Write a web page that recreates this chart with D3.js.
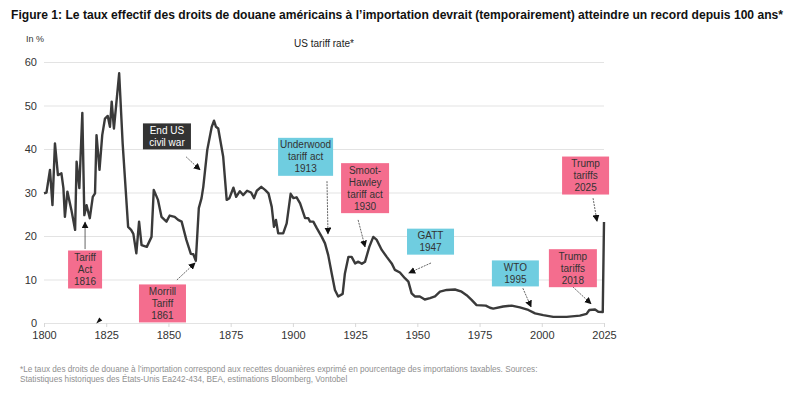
<!DOCTYPE html>
<html>
<head>
<meta charset="utf-8">
<script src="https://cdn.jsdelivr.net/npm/d3@7"></script>
<style>
  body { margin: 0; background: #fff; }
  svg { font-family: "Liberation Sans", Arial, sans-serif; }
</style>
</head>
<body>
<svg width="796" height="396"></svg>
<script>
// US effective tariff rate, %
const years = [1800, 1801, 1802.4, 1803.4, 1804.4, 1805.6, 1807, 1807.8, 1808.4, 1809.4,
  1811, 1812.5, 1813.1, 1814.2, 1815.4, 1816.2, 1817.1, 1818.4, 1819.6, 1820.5,
  1821.1, 1822.3, 1823.4, 1824.5, 1825.6, 1826.5, 1827.2, 1828.1, 1830.2, 1831.6,
  1833.8, 1835, 1835.9, 1837.1, 1838.2, 1839.2, 1841.3, 1843.2, 1844.1, 1845.8,
  1847.2, 1849.2, 1850.5, 1852.5, 1853.9, 1855.3, 1857.2, 1859, 1860, 1861,
  1862.2, 1863.3, 1864, 1865.6, 1867.4, 1868.3, 1869.1, 1870, 1872, 1873.4,
  1874.5, 1876.1, 1877.2, 1878.7, 1880, 1881.6, 1883.2, 1884.4, 1885.5, 1887.3,
  1888.8, 1890.2, 1891.5, 1892.4, 1893.2, 1894.1, 1896.1, 1897.5, 1899.1, 1900.2,
  1901.5, 1902.9, 1904.9, 1906.2, 1906.9, 1908.2, 1909.6, 1911.6, 1912.9, 1914.2,
  1915.6, 1916.9, 1918.2, 1920, 1920.9, 1922.3, 1923.6, 1925, 1926.3, 1927.7,
  1929, 1930.7, 1932.3, 1933.7, 1935.7, 1937.7, 1939.7, 1941, 1943, 1945,
  1946.4, 1947.7, 1949, 1951, 1953, 1955.1, 1957.1, 1959.1, 1961.8, 1965.1,
  1967.8, 1969.8, 1971.8, 1973.8, 1977.5, 1979.2, 1980.5, 1984.5, 1987.9, 1991.2,
  1994.6, 1997.3, 2000.6, 2004.6, 2010, 2015.3, 2018, 2019.1, 2021.4, 2022.7,
  2024.5, 2025];
const tariffRate = [29.8, 30, 35.2, 27.1, 41.3, 34, 34.4, 31, 24.4, 30.2,
  26, 21.4, 37.1, 31, 48.3, 24.8, 27.1, 24.1, 29, 29.8,
  43.2, 35.2, 43.2, 47, 47.6, 45.1, 50.9, 44.7, 57.4, 41.3,
  22.1, 21.4, 20.5, 16, 23.3, 17.9, 17.5, 19.8, 30.6, 28.3,
  24.4, 23.3, 24.7, 24.4, 23.7, 23.3, 19.1, 15.9, 15.8, 14.3,
  26.4, 28.7, 31.3, 39.8, 45.1, 46.5, 45.1, 44.7, 38.2, 28.3,
  28.7, 31.1, 29, 30.3, 29.4, 30.4, 30, 28.7, 30.4, 31.3,
  30.6, 29.8, 26.7, 22.1, 23.7, 20.6, 20.6, 22.9, 29.7, 28.7,
  28.9, 27.5, 24.1, 24.1, 23.3, 23.3, 21.8, 19.8, 18.3, 15.6,
  11.4, 7.6, 6.1, 6.7, 11.4, 15.2, 15.2, 13.7, 14.1, 13.6,
  14.1, 17.5, 19.8, 19.1, 16.8, 15.2, 13.7, 12.2, 11.6, 10.3,
  9.5, 6.8, 6.1, 6.1, 5.4, 5.7, 6.1, 7.2, 7.6, 7.7,
  7.2, 6.4, 5.3, 4.1, 4.0, 3.5, 3.3, 3.8, 4.0, 3.6,
  3.0, 2.2, 1.8, 1.4, 1.4, 1.7, 2.1, 3.0, 3.1, 2.6,
  2.5, 23.2];

const xTicks = [1800, 1825, 1850, 1875, 1900, 1925, 1950, 1975, 2000, 2025];
const yTicks = [0, 10, 20, 30, 40, 50, 60];

// annotation labels; box centre and arrow ends given in data units
const noteLabels = [
  ["End US", "civil war"],
  ["Tariff", "Act", "1816"],
  ["Morrill", "Tariff", "1861"],
  ["Underwood", "tariff act", "1913"],
  ["Smoot-", "Hawley", "tariff act", "1930"],
  ["GATT", "1947"],
  ["WTO", "1995"],
  ["Trump", "tariffs", "2018"],
  ["Trump", "tariffs", "2025"]
];
const noteKind = ["dark", "pink", "pink", "blue", "pink", "blue", "blue", "pink", "pink"];

// layout of the annotations (box centre, box width, arrow from -> to)
const noteLayout = [
  { cx: 1849.4, cy: 42.9, w: 48, ax: [1857.1, 38.2], bx: [1862.7, 35.2] },
  { cx: 1816.5, cy: 12.3, w: 34, ax: [1816.5, 17.0], bx: [1816.5, 23.2] },
  { cx: 1847.6, cy: 4.5, w: 47, ax: [1853.4, 9.9], bx: [1860.7, 13.8] },
  { cx: 1905.1, cy: 38.2, w: 55, ax: [1913.7, 32.6], bx: [1914.1, 20.5] },
  { cx: 1929.0, cy: 31.0, w: 48, ax: [1926.2, 23.7], bx: [1929.0, 17.5] },
  { cx: 1955.3, cy: 18.7, w: 47, ax: [1955.5, 13.8], bx: [1946.6, 11.5] },
  { cx: 1989.4, cy: 11.4, w: 47, ax: [1992.4, 8.0], bx: [1995.7, 3.7] },
  { cx: 2012.5, cy: 12.6, w: 48, ax: [2012.5, 8.3], bx: [2019.8, 4.4] },
  { cx: 2017.6, cy: 33.9, w: 47, ax: [2020.6, 28.7], bx: [2022.2, 23.4] }
];
const boxFill = { dark: "#333333", pink: "#f46d8e", blue: "#6fcde0" };
const boxText = { dark: "#ffffff", pink: "#333333", blue: "#333333" };

const svg = d3.select("svg");
const plotL = 44, plotR = 604, plotT = 62, plotB = 323;

const x = d3.scaleLinear().domain([1800, 2025]).range([plotL, plotR]);
const y = d3.scaleLinear().domain([0, 60]).range([plotB, plotT]);

// Title
svg.append("text")
  .attr("x", 11).attr("y", 19)
  .attr("font-size", 12).attr("font-weight", "bold").attr("fill", "#111")
  .attr("textLength", 772).attr("lengthAdjust", "spacingAndGlyphs")
  .text("Figure 1: Le taux effectif des droits de douane américains à l’importation devrait (temporairement) atteindre un record depuis 100 ans*");

svg.append("text")
  .attr("x", 26).attr("y", 42)
  .attr("font-size", 9).attr("fill", "#333")
  .text("In %");

svg.append("text")
  .attr("x", 324).attr("y", 47)
  .attr("text-anchor", "middle")
  .attr("font-size", 10).attr("fill", "#222")
  .text("US tariff rate*");

// Gridlines + y axis
const yAxis = svg.append("g")
  .attr("transform", `translate(${plotL},0)`)
  .call(d3.axisLeft(y).tickValues(yTicks).tickSize(-(plotR - plotL)).tickPadding(7));
yAxis.select(".domain").remove();
yAxis.selectAll(".tick line").attr("stroke", "#e3e3e3");
yAxis.selectAll(".tick text").attr("font-size", 11).attr("fill", "#333")
  .attr("font-family", "Liberation Sans, Arial, sans-serif");

// x axis
const xAxis = svg.append("g")
  .attr("transform", `translate(0,${plotB})`)
  .call(d3.axisBottom(x).tickValues(xTicks).tickFormat(d3.format("d")).tickSize(4).tickPadding(4));
xAxis.select(".domain").remove();
xAxis.selectAll(".tick line").attr("stroke", "#d8d8d8");
xAxis.selectAll(".tick text").attr("font-size", 11).attr("fill", "#333")
  .attr("font-family", "Liberation Sans, Arial, sans-serif");

// Line
const series = years.map((yr, i) => ({ year: yr, value: tariffRate[i] }));
svg.append("path")
  .datum(series)
  .attr("fill", "none")
  .attr("stroke", "#3a3a3a")
  .attr("stroke-width", 2.4)
  .attr("stroke-linejoin", "round")
  .attr("d", d3.line().x(d => x(d.year)).y(d => y(d.value)));

// arrow head
svg.append("defs").append("marker")
  .attr("id", "head")
  .attr("viewBox", "0 0 10 10")
  .attr("refX", 9).attr("refY", 5)
  .attr("markerWidth", 7).attr("markerHeight", 7)
  .attr("markerUnits", "userSpaceOnUse")
  .attr("orient", "auto")
  .append("path").attr("d", "M0,0L10,5L0,10z").attr("fill", "#111");

// Annotations
const lineH = 12;
noteLabels.forEach((lines, i) => {
  const L = noteLayout[i];
  const kind = noteKind[i];
  const h = lines.length * lineH + 2;
  const cx = x(L.cx), cy = y(L.cy);

  svg.append("line")
    .attr("x1", x(L.ax[0])).attr("y1", y(L.ax[1]))
    .attr("x2", x(L.bx[0])).attr("y2", y(L.bx[1]))
    .attr("stroke", "#222").attr("stroke-width", 0.7)
    .attr("stroke-dasharray", i === 1 ? null : "2,1")
    .attr("marker-end", "url(#head)");

  const g = svg.append("g");
  g.append("rect")
    .attr("x", cx - L.w / 2).attr("y", cy - h / 2)
    .attr("width", L.w).attr("height", h)
    .attr("fill", boxFill[kind]);
  g.selectAll("text")
    .data(lines)
    .join("text")
    .attr("x", cx)
    .attr("y", (d, j) => cy - h / 2 + 1 + lineH * (j + 0.5) + 3.6)
    .attr("text-anchor", "middle")
    .attr("font-size", 10)
    .attr("fill", boxText[kind])
    .text(d => d);
});

// stray arrow head under the 1825 tick
svg.append("path")
  .attr("d", d3.line()([[x(1822.2) - 3, y(0.6) + 3], [x(1822.2) + 3, y(0.6)], [x(1822.2), y(0.6) - 3]]) + "Z")
  .attr("fill", "#111");

// Footnote
const foot = [
  "*Le taux des droits de douane à l’importation correspond aux recettes douanières exprimé en pourcentage des importations taxables. Sources:",
  "Statistiques historiques des États-Unis Ea242-434, BEA, estimations Bloomberg, Vontobel"
];
svg.selectAll(".foot")
  .data(foot)
  .join("text")
  .attr("class", "foot")
  .attr("x", 20)
  .attr("y", (d, i) => 372 + i * 10)
  .attr("font-size", 8.2)
  .attr("fill", "#8f8f8f")
  .text(d => d);
</script>
</body>
</html>
